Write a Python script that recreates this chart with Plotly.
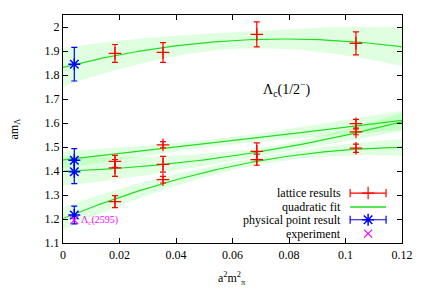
import numpy as np
import plotly.graph_objects as go

# ---------------- data ----------------
x_lat = [0.0184, 0.0354, 0.0686, 0.1037]
x_lat_a = [0.0184, 0.0354, 0.1037]
x_phys = 0.004

# excited state (top)
y_d = [1.890, 1.894, 1.969, 1.932]
e_d = [0.037, 0.041, 0.052, 0.048]
# state A
y_a = [1.440, 1.509, 1.597]
e_a = [0.025, 0.013, 0.018]
# state B
y_b = [1.413, 1.428, 1.482, 1.563]
e_b = [0.035, 0.033, 0.035, 0.012]
# state C (ground)
y_c = [1.272, 1.364, 1.447, 1.495]
e_c = [0.025, 0.014, 0.023, 0.017]

phys_y = [1.845, 1.445, 1.397, 1.217]
phys_e = [0.070, 0.048, 0.050, 0.037]
exp_y = [1.195]

# quadratic fit coefficients (c0, c1, c2) and band parameters (wmin, xmin, k)
fit_d = (1.832, 3.002, -19.1)
fit_a = (1.446, 1.30, 0.6)
fit_b = (1.399, 0.404, 10.94)
fit_c = (1.202, 4.818, -19.59)
band_d = (0.035, 0.060, 1.20)
band_a = (0.015, 0.055, 0.575)
band_b = (0.015, 0.075, 0.775)
band_c = (0.015, 0.070, 0.636)

x_ticks = [0, 0.02, 0.04, 0.06, 0.08, 0.1, 0.12]
y_ticks = [1.1, 1.2, 1.3, 1.4, 1.5, 1.6, 1.7, 1.8, 1.9, 2.0]

# ---------------- figure ----------------
RED = "#ff0000"
BLUE = "#0000ff"
MAG = "#ff00ff"
GREEN = "#22dd22"
BAND = "rgba(0,255,0,0.12)"
FONT = "Liberation Serif"

fig = go.Figure()
xs = np.linspace(0, 0.12, 200)

for fit, band in [(fit_d, band_d), (fit_a, band_a), (fit_b, band_b), (fit_c, band_c)]:
    yc = fit[0] + fit[1] * xs + fit[2] * xs ** 2
    w = np.sqrt(band[0] ** 2 + (band[2] * (xs - band[1])) ** 2)
    fig.add_trace(go.Scatter(
        x=np.concatenate([xs, xs[::-1]]),
        y=np.concatenate([yc + w, (yc - w)[::-1]]),
        fill="toself", fillcolor=BAND, line=dict(width=0),
        mode="lines", hoverinfo="skip", showlegend=False))

for fit in [fit_d, fit_a, fit_b, fit_c]:
    yc = fit[0] + fit[1] * xs + fit[2] * xs ** 2
    fig.add_trace(go.Scatter(x=xs, y=yc, mode="lines",
                             line=dict(color=GREEN, width=1.2), showlegend=False))

for xx, yy, ee in [(x_lat, y_d, e_d), (x_lat_a, y_a, e_a), (x_lat, y_b, e_b), (x_lat, y_c, e_c)]:
    fig.add_trace(go.Scatter(
        x=xx, y=yy, mode="markers",
        marker=dict(symbol="cross-thin", size=9, line=dict(color=RED, width=1.2), color=RED),
        error_y=dict(type="data", array=ee, color=RED, thickness=1.2, width=3),
        showlegend=False))

fig.add_trace(go.Scatter(
    x=[x_phys] * len(phys_y), y=phys_y, mode="markers",
    marker=dict(symbol="asterisk-open", size=10, line=dict(color=BLUE, width=1.5), color=BLUE),
    error_y=dict(type="data", array=phys_e, color=BLUE, thickness=1.2, width=3),
    showlegend=False))

fig.add_trace(go.Scatter(
    x=[x_phys] * len(exp_y), y=exp_y, mode="markers",
    marker=dict(symbol="x-thin-open", size=8, line=dict(color=MAG, width=1.2), color=MAG),
    showlegend=False))

# ---------------- manual legend (overlay axes 0..1) ----------------
rows = [0.219, 0.158, 0.102, 0.041]
sx0, sx1, sxm = 0.847, 0.953, 0.90
cap = 0.018
labels = ["lattice results", "quadratic fit", "physical point result", "experiment"]
# lattice sample
r = rows[0]
fig.add_trace(go.Scatter(x=[sx0, sx1, None, sx0, sx0, None, sx1, sx1],
                         y=[r, r, None, r - cap, r + cap, None, r - cap, r + cap],
                         mode="lines", line=dict(color=RED, width=1.2),
                         xaxis="x2", yaxis="y2", showlegend=False))
fig.add_trace(go.Scatter(x=[sxm], y=[r], mode="markers",
                         marker=dict(symbol="cross-thin", size=9, color=RED,
                                     line=dict(color=RED, width=1.2)),
                         xaxis="x2", yaxis="y2", showlegend=False))
# fit sample
r = rows[1]
fig.add_trace(go.Scatter(x=[sx0, sx1], y=[r, r], mode="lines",
                         line=dict(color=GREEN, width=1.5),
                         xaxis="x2", yaxis="y2", showlegend=False))
# physical sample
r = rows[2]
fig.add_trace(go.Scatter(x=[sx0, sx1, None, sx0, sx0, None, sx1, sx1],
                         y=[r, r, None, r - cap, r + cap, None, r - cap, r + cap],
                         mode="lines", line=dict(color=BLUE, width=1.2),
                         xaxis="x2", yaxis="y2", showlegend=False))
fig.add_trace(go.Scatter(x=[sxm], y=[r], mode="markers",
                         marker=dict(symbol="asterisk-open", size=10, color=BLUE,
                                     line=dict(color=BLUE, width=1.5)),
                         xaxis="x2", yaxis="y2", showlegend=False))
# experiment sample
r = rows[3]
fig.add_trace(go.Scatter(x=[sxm], y=[r], mode="markers",
                         marker=dict(symbol="x-thin-open", size=8, color=MAG,
                                     line=dict(color=MAG, width=1.2)),
                         xaxis="x2", yaxis="y2", showlegend=False))

annotations = []
for lab, r in zip(labels, rows):
    annotations.append(dict(x=0.826, y=r, xref="paper", yref="paper", text=lab,
                            showarrow=False, xanchor="right", yanchor="middle",
                            font=dict(family=FONT, size=12, color="black")))

annotations += [
    dict(x=0.66, y=0.676, xref="paper", yref="paper",
         text="Λ<sub>c</sub>(1/2<sup>−</sup>)", showarrow=False,
         xanchor="center", yanchor="middle", font=dict(family=FONT, size=14, color="black")),
    dict(x=x_phys, y=exp_y[0], xref="x", yref="y", text="Λ<sub>c</sub>(2595)",
         showarrow=False, xanchor="left", yanchor="middle", xshift=5,
         font=dict(family=FONT, size=10, color=MAG)),
    dict(x=-0.143, y=0.5, xref="paper", yref="paper", text="am<sub>Λ</sub>",
         showarrow=False, textangle=-90, xanchor="center", yanchor="middle",
         font=dict(family=FONT, size=12, color="black")),
    dict(x=0.498, y=0, xref="paper", yref="paper", text="a<sup>2</sup>m<sup>2</sup><sub>π</sub>",
         showarrow=False, xanchor="center", yanchor="middle", yshift=-35,
         font=dict(family=FONT, size=12, color="black")),
]

axis_common = dict(showline=True, linecolor="black", linewidth=1.2, mirror="allticks",
                   ticks="inside", ticklen=5, tickcolor="black", showgrid=False,
                   zeroline=False, tickfont=dict(family=FONT, size=12, color="black"))

fig.update_layout(
    width=425, height=298,
    margin=dict(l=63, r=23, t=15, b=55),
    paper_bgcolor="white", plot_bgcolor="white",
    showlegend=False,
    xaxis=dict(range=[0, 0.12], tickvals=x_ticks,
               ticktext=["0", "0.02", "0.04", "0.06", "0.08", "0.1", "0.12"], **axis_common),
    yaxis=dict(range=[1.1, 2.05], tickvals=y_ticks,
               ticktext=["1.1", "1.2", "1.3", "1.4", "1.5", "1.6", "1.7", "1.8", "1.9", "2"],
               **axis_common),
    xaxis2=dict(overlaying="x", range=[0, 1], visible=False, fixedrange=True),
    yaxis2=dict(overlaying="y", range=[0, 1], visible=False, fixedrange=True, anchor="x2"),
    annotations=annotations,
)

fig.write_html("out.html", config={"displayModeBar": False},
               post_script="document.body.style.margin='0';document.body.style.overflow='hidden';")
